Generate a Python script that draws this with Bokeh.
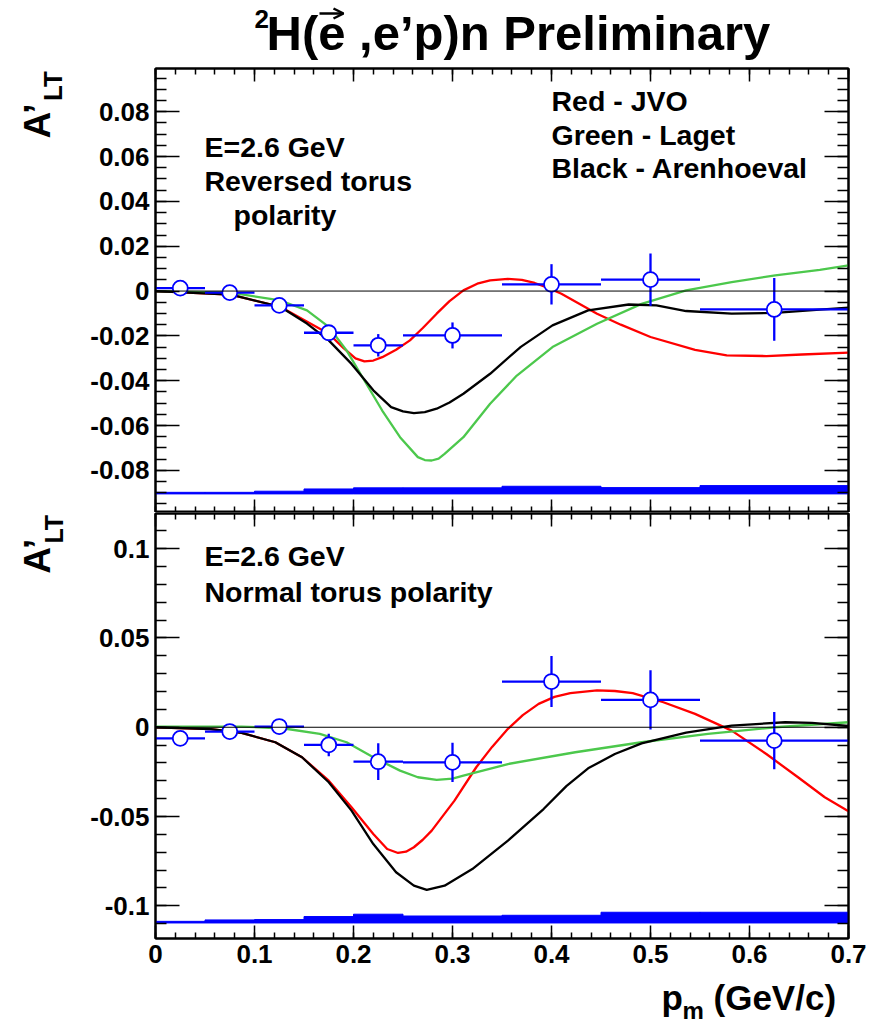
import numpy as np
from math import pi
from bokeh.plotting import figure
from bokeh.models import (LinearAxis, FixedTicker, CustomJSTickFormatter, Range1d,
                          Label, Span, Arrow, OpenHead, ColumnDataSource)
from bokeh.layouts import column, row
from bokeh.embed import file_html
from bokeh.resources import INLINE

# ---------------- data ----------------
BIN_CENTER = [0.025, 0.075, 0.125, 0.175, 0.225, 0.30, 0.40, 0.50, 0.625]
BIN_LO = [0.00, 0.05, 0.10, 0.15, 0.20, 0.25, 0.35, 0.45, 0.55]
BIN_HI = [0.05, 0.10, 0.15, 0.20, 0.25, 0.35, 0.45, 0.55, 0.70]

# Reversed torus polarity (top)
TOP_Y = [0.0013, -0.0007, -0.0064, -0.0186, -0.0242, -0.0198, 0.0030, 0.0051, -0.0082]
TOP_ERR = [0.002, 0.002, 0.003, 0.003, 0.005, 0.0058, 0.009, 0.0117, 0.014]
TOP_SYS_BASE = -0.0905
TOP_SYS = [0.0007, 0.0007, 0.0012, 0.0022, 0.0027, 0.0027, 0.0034, 0.0028, 0.0037]

TOP_RED_X = [0.0, 0.076, 0.126, 0.175, 0.190, 0.202, 0.211, 0.220, 0.229, 0.243, 0.257, 0.270,
             0.284, 0.297, 0.311, 0.325, 0.338, 0.356, 0.370, 0.383, 0.396, 0.410, 0.446,
             0.470, 0.500, 0.545, 0.577, 0.617, 0.653, 0.700]
TOP_RED_Y = [0.0, -0.0016, -0.0070, -0.0190, -0.0255, -0.0300, -0.0314, -0.0310, -0.0295,
             -0.0262, -0.0220, -0.0165, -0.0101, -0.0045, 0.0003, 0.0033, 0.0048, 0.0054,
             0.0050, 0.0036, 0.0015, -0.0012, -0.0101, -0.0150, -0.0205, -0.0262, -0.0287,
             -0.0290, -0.0283, -0.0275]
TOP_BLACK_X = [0.0, 0.076, 0.126, 0.153, 0.175, 0.198, 0.220, 0.238, 0.250, 0.261, 0.272,
               0.284, 0.297, 0.311, 0.338, 0.369, 0.401, 0.437, 0.478, 0.506, 0.536, 0.582,
               0.626, 0.671, 0.700]
TOP_BLACK_Y = [0.0, -0.0016, -0.0070, -0.0145, -0.0220, -0.0325, -0.0443, -0.0518, -0.0537,
               -0.0545, -0.0540, -0.0525, -0.0497, -0.0458, -0.0369, -0.0249, -0.0153,
               -0.0086, -0.0060, -0.0064, -0.0089, -0.0101, -0.0097, -0.0083, -0.0074]
TOP_GREEN_X = [0.0, 0.076, 0.126, 0.153, 0.175, 0.193, 0.211, 0.229, 0.247, 0.265, 0.272,
               0.279, 0.286, 0.292, 0.311, 0.338, 0.365, 0.401, 0.446, 0.491, 0.536, 0.582,
               0.626, 0.671, 0.700]
TOP_GREEN_Y = [0.0, -0.0007, -0.0042, -0.0086, -0.0160, -0.0265, -0.0399, -0.0533, -0.0652,
               -0.0741, -0.0754, -0.0756, -0.0748, -0.0726, -0.0652, -0.0503, -0.0377,
               -0.0250, -0.0146, -0.0057, 0.0003, 0.0040, 0.0070, 0.0095, 0.0115]

# Normal torus polarity (bottom)
BOT_Y = [-0.0062, -0.0024, 0.0004, -0.0099, -0.0193, -0.0197, 0.0256, 0.0153, -0.0075]
BOT_ERR = [0.003, 0.003, 0.003, 0.0063, 0.0103, 0.011, 0.0143, 0.0166, 0.016]
BOT_SYS_BASE = -0.1096
BOT_SYS = [0.0009, 0.0017, 0.0019, 0.0036, 0.0049, 0.0039, 0.0043, 0.0060, 0.0060]

BOT_RED_X = [0.0, 0.056, 0.087, 0.121, 0.148, 0.175, 0.198, 0.220, 0.234, 0.245, 0.253,
             0.261, 0.270, 0.279, 0.302, 0.324, 0.340, 0.356, 0.371, 0.387, 0.403, 0.419,
             0.446, 0.464, 0.482, 0.513, 0.545, 0.582, 0.617, 0.649, 0.676, 0.700]
BOT_RED_Y = [0.0, -0.0011, -0.0032, -0.0084, -0.0168, -0.0299, -0.0448, -0.0598, -0.0682,
             -0.0704, -0.0697, -0.0672, -0.0630, -0.0579, -0.0411, -0.0224, -0.0110, -0.0009,
             0.0068, 0.0131, 0.0170, 0.0191, 0.0206, 0.0203, 0.0191, 0.0140, 0.0075, -0.0019,
             -0.0150, -0.0280, -0.0392, -0.0471]
BOT_BLACK_X = [0.0, 0.056, 0.087, 0.121, 0.148, 0.175, 0.198, 0.220, 0.243, 0.261, 0.274,
               0.292, 0.320, 0.356, 0.392, 0.415, 0.437, 0.464, 0.491, 0.536, 0.582, 0.636,
               0.663, 0.700]
BOT_BLACK_Y = [0.0, -0.0011, -0.0032, -0.0084, -0.0168, -0.0308, -0.0467, -0.0654, -0.0812,
               -0.0887, -0.0911, -0.0887, -0.0794, -0.0635, -0.0458, -0.0330, -0.0230,
               -0.0150, -0.0090, -0.0030, 0.0009, 0.0028, 0.0024, 0.0007]
BOT_GREEN_X = [0.0, 0.087, 0.130, 0.166, 0.193, 0.220, 0.247, 0.265, 0.284, 0.300, 0.311,
               0.356, 0.424, 0.491, 0.558, 0.626, 0.700]
BOT_GREEN_Y = [0.0004, 0.0004, -0.0007, -0.0037, -0.0084, -0.0168, -0.0243, -0.0280, -0.0295,
               -0.0288, -0.0271, -0.0206, -0.0140, -0.0084, -0.0037, 0.0000, 0.0028]

X_TICKS = [0.0, 0.1, 0.2, 0.3, 0.4, 0.5, 0.6, 0.7]
Y1_TICKS = [-0.08, -0.06, -0.04, -0.02, 0.0, 0.02, 0.04, 0.06, 0.08]
Y2_TICKS = [-0.1, -0.05, 0.0, 0.05, 0.1]

TITLE = "H(e ,e\u2019p)n Preliminary"
Y_LABEL_MAIN, Y_LABEL_SUB = "A\u2019", "LT"
X_LABEL_MAIN, X_LABEL_SUB, X_LABEL_UNIT = "p", "m", "(GeV/c)"

# ---------------- layout geometry (canvas px) ----------------
W, HT = 880, 1025
LW = 70                      # width of left label strip
TH = 62                      # title strip height
F1T = 68                     # top panel frame top (global)
P1H = 512 - TH               # top panel figure (6 px border on top, frame to 512)
P2H = 466                    # bottom panel (1 px top gap, 425 frame, 40 labels)
BH = HT - TH - P1H - P2H     # bottom strip (x label)
PL, PR = 85, 32              # panel borders inside panel figures
XMIN, XMAX = 0.0, 0.7
Y1MIN, Y1MAX = -0.0988, 0.0993
Y2MIN, Y2MAX = -0.1183, 0.1197

FONT = "Liberation Sans"
BLUE, RED, GREEN = "#0000ff", "#ff0000", "#4cc84c"
BASE_SHIFT = 0.36            # measured offset of the drawn baseline, in em

fmt = CustomJSTickFormatter(code="return String(Number(tick.toPrecision(6)));")


def minor(lo, hi, step):
    return list(np.round(np.arange(lo, hi + step / 2, step), 4))


def style_axis(ax, ticks, minors, tin, tmin, show_labels):
    ax.ticker = FixedTicker(ticks=ticks, minor_ticks=minors)
    ax.formatter = fmt
    ax.major_tick_in = tin
    ax.major_tick_out = 0
    ax.minor_tick_in = tmin
    ax.minor_tick_out = 0
    ax.axis_line_width = 2
    ax.axis_line_color = "black"
    ax.major_tick_line_width = 1.5
    ax.minor_tick_line_width = 1.5
    ax.major_tick_line_color = "black"
    ax.minor_tick_line_color = "black"
    ax.axis_label = None
    if show_labels:
        ax.major_label_text_font = FONT
        ax.major_label_text_font_style = "bold"
        ax.major_label_text_font_size = "26px"
        ax.major_label_text_color = "black"
        ax.major_label_standoff = 6
    else:
        ax.major_label_text_font_size = "0px"
        ax.major_label_text_color = None
        ax.major_label_standoff = 0


def make_panel(height, btop, bbottom, ymin, ymax, yticks, yminor, bottom_labels):
    p = figure(width=W - LW, height=height, x_range=Range1d(XMIN, XMAX),
               y_range=Range1d(ymin, ymax), output_backend="svg", toolbar_location=None,
               title=None, min_border_left=PL, min_border_right=PR,
               min_border_top=btop, min_border_bottom=bbottom)
    p.grid.visible = False
    p.outline_line_color = "black"
    p.outline_line_width = 2
    xm = minor(XMIN, XMAX, 0.02)
    style_axis(p.xaxis[0], X_TICKS, xm, 13, 6, bottom_labels)
    style_axis(p.yaxis[0], yticks, yminor, 24, 11, True)
    ax_top = LinearAxis()
    style_axis(ax_top, X_TICKS, xm, 13, 6, False)
    p.add_layout(ax_top, "above")
    ax_right = LinearAxis()
    style_axis(ax_right, yticks, yminor, 24, 11, False)
    p.add_layout(ax_right, "right")
    return p


def text_canvas(width, height):
    # a blank figure whose frame is the whole canvas, with pixel coordinates (y down)
    c = figure(width=width, height=height, x_range=Range1d(0, width),
               y_range=Range1d(height, 0), output_backend="svg", toolbar_location=None,
               title=None, x_axis_location=None, y_axis_location=None,
               min_border=0, min_border_left=0, min_border_right=0,
               min_border_top=0, min_border_bottom=0)
    c.grid.visible = False
    c.outline_line_color = None
    return c


def draw_content(p, yvals, errs, sys_base, sys_h, curves):
    p.quad(left=BIN_LO, right=BIN_HI, bottom=[sys_base] * len(sys_h),
           top=[sys_base + h for h in sys_h], fill_color=BLUE, line_color=BLUE, line_width=1)
    p.add_layout(Span(location=0, dimension="width", line_color="black", line_width=1))
    for xs, ys, col in curves:
        p.line(xs, ys, line_color=col, line_width=2.3)
    src = ColumnDataSource(dict(x=BIN_CENTER, y=yvals, lo=BIN_LO, hi=BIN_HI,
                                ylo=[y - e for y, e in zip(yvals, errs)],
                                yhi=[y + e for y, e in zip(yvals, errs)]))
    p.segment(x0="lo", y0="y", x1="hi", y1="y", source=src, line_color=BLUE, line_width=2.3)
    p.segment(x0="x", y0="ylo", x1="x", y1="yhi", source=src, line_color=BLUE, line_width=2.3)
    p.scatter(x="x", y="y", source=src, marker="circle", size=15, fill_color="white",
              line_color=BLUE, line_width=1.8)


def identity(v):
    return v


def txt(p, cx, cy, s, size, rotated=False, fx=identity, fy=identity):
    """place a bold label with its baseline start at local canvas px (cx, cy)"""
    sh = BASE_SHIFT * size
    if rotated:
        cx -= sh
    else:
        cy -= sh
    p.add_layout(Label(x=fx(cx), y=fy(cy), text=s, text_font=FONT, text_font_style="bold",
                       text_font_size=f"{size}px", text_color="black",
                       angle=pi / 2 if rotated else 0.0,
                       text_align="left", text_baseline="alphabetic"))


def px_to(fig_left, fig_top, fw, fh, xr, yr):
    def fx(cx):
        return xr[0] + (cx - fig_left) / fw * (xr[1] - xr[0])

    def fy(cy):
        return yr[1] - (cy - fig_top) / fh * (yr[1] - yr[0])
    return fx, fy


# ---------------- title strip ----------------
T = text_canvas(W, TH)
txt(T, 266, 50, TITLE, 49)
txt(T, 254, 28, "2", 26)
T.add_layout(Arrow(end=OpenHead(size=10, line_width=2.5, line_color="black"),
                   x_start=319, y_start=13, x_end=343, y_end=13,
                   line_width=2.5, line_color="black"))

# ---------------- top panel ----------------
y1m = minor(-0.095, 0.095, 0.005)
P1 = make_panel(P1H, F1T - TH, 0, Y1MIN, Y1MAX, Y1_TICKS, y1m, False)
draw_content(P1, TOP_Y, TOP_ERR, TOP_SYS_BASE, TOP_SYS,
             [(TOP_RED_X, TOP_RED_Y, RED), (TOP_GREEN_X, TOP_GREEN_Y, GREEN),
              (TOP_BLACK_X, TOP_BLACK_Y, "black")])
fx1, fy1 = px_to(LW + PL, F1T, W - LW - PL - PR, 512 - F1T, (XMIN, XMAX), (Y1MIN, Y1MAX))
for cx, cy, s in [(204, 157, "E=2.6 GeV"), (204, 191, "Reversed torus"), (233, 225, "polarity"),
                  (551, 111, "Red - JVO"), (551, 145, "Green - Laget"),
                  (551, 178, "Black - Arenhoeval")]:
    txt(P1, cx, cy, s, 28.5, fx=fx1, fy=fy1)

L1 = text_canvas(LW, P1H)
txt(L1, 50, 133 - TH, Y_LABEL_MAIN, 37, rotated=True)
txt(L1, 62, 95 - TH, Y_LABEL_SUB, 26, rotated=True)

# ---------------- bottom panel ----------------
y2m = minor(-0.11, 0.11, 0.01)
P2 = make_panel(P2H, 1, 40, Y2MIN, Y2MAX, Y2_TICKS, y2m, True)
draw_content(P2, BOT_Y, BOT_ERR, BOT_SYS_BASE, BOT_SYS,
             [(BOT_RED_X, BOT_RED_Y, RED), (BOT_GREEN_X, BOT_GREEN_Y, GREEN),
              (BOT_BLACK_X, BOT_BLACK_Y, "black")])
top2 = TH + P1H + 1
fx2, fy2 = px_to(LW + PL, top2, W - LW - PL - PR, P2H - 41, (XMIN, XMAX), (Y2MIN, Y2MAX))
txt(P2, 204, 566, "E=2.6 GeV", 28.5, fx=fx2, fy=fy2)
txt(P2, 204, 602, "Normal torus polarity", 28.5, fx=fx2, fy=fy2)

L2 = text_canvas(LW, P2H)
txt(L2, 50, 578 - (TH + P1H), Y_LABEL_MAIN, 37, rotated=True)
txt(L2, 62, 545 - (TH + P1H), Y_LABEL_SUB, 25, rotated=True)

# ---------------- bottom strip ----------------
B = text_canvas(W, BH)
b0 = TH + P1H + P2H
txt(B, 661, 1010 - b0, X_LABEL_MAIN, 35)
txt(B, 682, 1019 - b0, X_LABEL_SUB, 24)
txt(B, 713, 1010 - b0, X_LABEL_UNIT, 35)

layout = column(T, row(L1, P1, spacing=0), row(L2, P2, spacing=0), B, spacing=0)
open("out.html", "w").write(file_html(layout, INLINE))
